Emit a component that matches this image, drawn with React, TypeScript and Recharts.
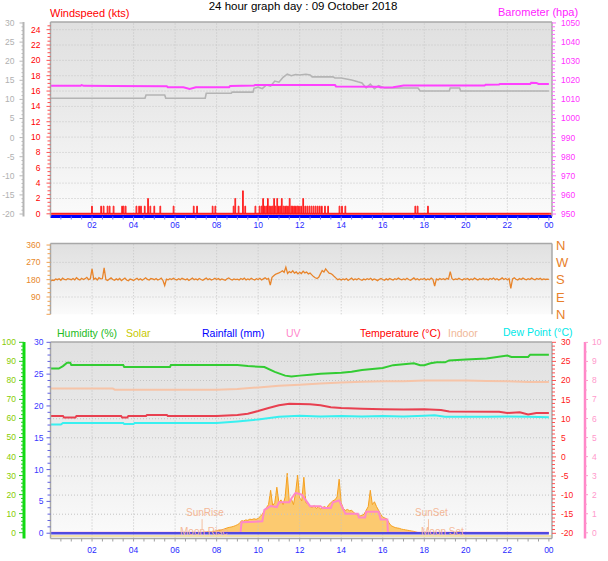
import React from "react";
import {
  ComposedChart,
  Line,
  Area,
  XAxis,
  YAxis,
  CartesianGrid,
  ReferenceLine,
} from "recharts";

const FONT = "'Liberation Sans', Arial, sans-serif";
const TICK_FS = 8.5;
const X_DOMAIN: [number, number] = [0, 24.15];

function range(from: number, to: number, step: number) {
  const out: number[] = [];
  for (let v = from; v <= to + 1e-9; v += step) out.push(Math.round(v * 100) / 100);
  return out;
}
const every = (n: number) => (v: number) => Math.abs(v / n - Math.round(v / n)) < 1e-6;

// ---- axis ticks ----
const HOUR_TICKS = range(0.5, 24, 0.5);
const GRID_HOURS = [2, 4, 6, 8, 10, 12, 14, 16, 18, 20, 22];
const hourLabel = (h: number) => String(h % 24).padStart(2, "0");

// ---- top panel: windspeed (kts), barometer (hpa), gray temperature line ----
// [hour, kts] gust spikes
const WIND_SPIKES: [number, number][] = [
  [1.98, 1], [2.42, 1], [2.54, 1], [2.73, 1], [2.83, 1], [3.02, 1], [3.43, 1], [3.5, 1], [3.6, 1],
  [4.12, 1], [4.25, 1], [4.34, 1], [4.52, 1], [4.68, 2], [4.79, 1], [4.98, 1], [5.27, 1], [5.91, 1],
  [6.88, 1], [7.04, 1], [7.79, 1], [7.92, 1], [8.8, 1], [8.88, 2], [9.04, 1], [9.25, 3], [9.36, 1],
  [9.85, 1], [10.05, 1], [10.15, 1], [10.22, 2], [10.3, 1], [10.38, 1], [10.45, 2], [10.52, 1],
  [10.6, 1], [10.68, 1], [10.75, 2], [10.82, 1], [10.9, 2], [10.98, 1], [11.05, 1], [11.12, 2],
  [11.2, 1], [11.28, 1], [11.35, 1], [11.42, 1], [11.5, 2], [11.58, 1], [11.65, 1], [11.72, 1],
  [11.8, 1], [11.88, 1], [11.95, 1], [12.05, 1], [12.15, 2], [12.25, 1], [12.35, 1], [12.45, 1],
  [12.55, 1], [12.65, 1], [12.75, 1], [12.85, 1], [12.95, 1], [13.05, 1], [13.2, 1], [13.35, 1],
  [13.9, 1], [14.02, 1], [14.18, 1], [17.55, 1], [17.66, 1], [18.16, 1],
];
const SPIKE_WIDTH = 0.035;

const BARO: [number, number][] = [
  [0, 1017.1], [1.45, 1017.1], [1.5, 1017.5], [1.6, 1017.1], [3.0, 1017.0], [5.6, 1016.9],
  [5.65, 1016.4], [6.4, 1016.3], [6.7, 1015.5], [7.0, 1016.3], [8.6, 1016.4], [8.65, 1017.0],
  [9.8, 1017.2], [9.85, 1017.5], [13.7, 1017.5], [13.75, 1016.8], [15.8, 1016.6], [15.9, 1016.2],
  [16.5, 1016.3], [16.8, 1016.9], [17.0, 1017.2], [20.9, 1017.2], [20.95, 1017.7], [21.6, 1017.8],
  [21.65, 1018.1], [23.1, 1018.1], [23.15, 1018.7], [23.4, 1018.6], [23.5, 1018.1], [24, 1018.1],
];

const GRAY_TEMP: [number, number][] = [
  [0, 10.3], [4.55, 10.3], [4.6, 11.15], [5.5, 11.15], [5.55, 10.3], [7.45, 10.3], [7.5, 11.6],
  [8.7, 11.6], [8.75, 11.9], [9.75, 11.9], [9.8, 12.9], [10.0, 13.2], [10.2, 12.8], [10.4, 13.8],
  [10.6, 13.5], [10.8, 14.8], [11.0, 14.5], [11.2, 15.8], [11.4, 16.6], [11.6, 16.2], [11.8, 16.5],
  [12.0, 16.4], [12.3, 16.6], [12.5, 16.4], [12.6, 15.9], [13.6, 15.9], [13.7, 15.6], [14.0, 15.6],
  [14.5, 15.1], [14.8, 14.6], [15.0, 14.3], [15.2, 13.0], [15.4, 14.0], [15.6, 12.8], [15.8, 13.6],
  [16.1, 13.0], [17.7, 13.0], [17.8, 12.2], [19.2, 12.2], [19.25, 13.0], [19.7, 13.0],
  [19.75, 12.2], [24, 12.2],
];

// ---- middle panel: wind direction, one value every 5 minutes ----
const DIR_STEP = 1 / 12;
const WIND_DIR: number[] = [
  172, 178, 176, 184, 180, 185, 177, 188, 181, 179, 185, 183,
  180, 186, 179, 190, 183, 178, 187, 181, 185, 192, 180, 184,
  236, 182, 188, 178, 190, 184, 186, 241, 180, 176, 183, 189,
  181, 177, 184, 179, 186, 175, 182, 188, 178, 174, 183, 180,
  176, 182, 187, 179, 185, 177, 183, 190, 181, 178, 186, 184,
  180, 186, 178, 182, 188, 176, 150, 183, 179, 185, 181, 187,
  182, 178, 185, 180, 187, 183, 179, 184, 176, 182, 188, 180,
  184, 179, 186, 181, 177, 183, 188, 180, 185, 178, 182, 187,
  181, 186, 179, 184, 180, 177, 185, 189, 182, 178, 184, 180,
  183, 178, 186, 181, 188, 179, 184, 180, 187, 182, 178, 185,
  181, 187, 179, 184, 190, 182, 186, 152, 192, 200, 208, 212,
  215, 220, 226, 218, 245, 212, 222, 216, 226, 214, 220, 210,
  218, 212, 224, 215, 220, 210, 214, 205, 196, 190, 186, 192,
  210, 228, 220, 236, 224, 214, 212, 205, 196, 188, 180, 184,
  178, 184, 180, 186, 176, 182, 188, 179, 184, 180, 186, 181,
  177, 183, 179, 185, 181, 187, 178, 184, 180, 175, 182, 186,
  181, 177, 184, 179, 186, 182, 178, 185, 181, 188, 183, 179,
  184, 180, 187, 181, 177, 183, 189, 180, 185, 178, 184, 182,
  186, 179, 184, 180, 188, 182, 147, 184, 179, 186, 181, 185,
  180, 187, 183, 222, 185, 179, 184, 181, 187, 182, 178, 185,
  182, 186, 179, 184, 180, 188, 183, 178, 185, 181, 187, 180,
  184, 179, 186, 182, 188, 180, 185, 178, 183, 189, 181, 186,
  180, 186, 135, 184, 190, 182, 178, 186, 181, 188, 183, 179,
  185, 181, 188, 183, 179, 186, 182, 187, 180, 184, 181, 183,
  182,
];
const COMPASS: Record<number, string> = { 0: "N", 90: "E", 180: "S", 270: "W", 360: "N" };

// ---- bottom panel ----
const HUMIDITY: [number, number][] = [
  [0, 86.2], [0.4, 86.2], [0.6, 87.5], [0.8, 89.3], [0.95, 89.3], [1.0, 88.1], [3.5, 88.1],
  [3.55, 87.0], [5.75, 87.0], [5.8, 88.1], [9.0, 88.1], [9.5, 87.5], [10.3, 87.0], [10.8, 84.5],
  [11.3, 82.5], [11.6, 82.0], [12.0, 82.5], [12.5, 83.0], [13.0, 83.5], [14.0, 84.0], [14.5, 84.5],
  [15.0, 85.5], [15.5, 86.0], [16.0, 86.5], [16.5, 88.0], [17.0, 88.5], [17.5, 89.0], [17.8, 88.0],
  [18.0, 88.0], [18.3, 89.0], [18.6, 89.5], [19.0, 89.5], [19.2, 90.5], [20.0, 91.0], [21.0, 91.5],
  [22.0, 93.0], [22.2, 92.3], [23.0, 92.3], [23.1, 93.5], [24, 93.5],
];
const TEMPERATURE: [number, number][] = [
  [0, 10.7], [0.6, 10.7], [0.65, 10.3], [1.2, 10.3], [1.25, 10.7], [3.4, 10.7], [3.45, 10.3],
  [3.7, 10.3], [3.75, 10.7], [4.6, 10.7], [4.65, 11.0], [5.6, 11.0], [5.65, 10.7], [8.0, 10.7],
  [9.0, 11.0], [9.5, 11.3], [10.0, 12.0], [10.5, 12.8], [11.0, 13.5], [11.5, 13.9], [12.5, 13.8],
  [13.0, 13.5], [13.5, 13.0], [14.0, 12.8], [15.0, 12.6], [16.0, 12.5], [17.0, 12.4], [18.0, 12.5],
  [18.8, 12.3], [19.2, 11.9], [21.6, 11.8], [22.0, 11.5], [22.6, 11.7], [23.0, 11.1], [23.4, 11.5],
  [24, 11.5],
];
const DEW_POINT: [number, number][] = [
  [0, 8.5], [0.5, 8.5], [0.6, 8.9], [3.5, 8.9], [3.55, 8.6], [4.0, 8.6], [4.05, 8.9], [8.0, 8.9],
  [9.0, 9.3], [10.0, 9.8], [11.0, 10.5], [12.0, 10.8], [13.0, 10.6], [14.0, 10.7], [15.0, 10.6],
  [16.0, 10.7], [17.0, 10.6], [18.0, 10.8], [18.5, 10.9], [19.0, 10.5], [21.0, 10.5], [22.0, 10.6],
  [23.0, 10.5], [24, 10.4],
];
const INDOOR: [number, number][] = [
  [0, 17.9], [3.0, 17.9], [3.1, 17.6], [8.0, 17.6], [9.0, 17.8], [10.0, 18.2], [11.0, 18.6],
  [12.0, 18.9], [13.0, 19.2], [14.0, 19.5], [15.0, 19.7], [16.0, 19.8], [17.0, 19.8], [18.0, 20.0],
  [20.0, 20.0], [21.0, 19.9], [22.0, 19.8], [23.0, 19.6], [24, 19.6],
];
const UV: [number, number][] = [
  [0, 0], [9.15, 0], [9.2, 0.55], [10.2, 0.6], [10.3, 1.2], [10.6, 1.4], [10.9, 1.35], [11.0, 1.6],
  [11.5, 1.6], [11.6, 1.8], [11.8, 2.1], [12.1, 2.0], [12.3, 1.7], [12.5, 1.4], [13.0, 1.4],
  [13.1, 1.3], [13.5, 1.3], [13.6, 1.6], [13.9, 1.7], [14.0, 1.45], [14.2, 1.0], [14.8, 1.0],
  [14.85, 0.8], [15.15, 0.8], [15.2, 1.1], [15.8, 1.1], [15.9, 0.7], [16.22, 0.7], [16.25, 0],
  [24, 0],
];
const RAINFALL: [number, number][] = [[0, 0], [24, 0]];
// solar W/m2, every 6 minutes from 07:00
const SOLAR_START = 7;
const SOLAR_STEP = 0.1;
const SOLAR: number[] = [
  0, 2, 4, 5, 6, 7, 8, 9, 10, 11,
  14, 15, 17, 20, 24, 28, 31, 33, 36, 40,
  45, 52, 66, 64, 70, 68, 74, 72, 76, 73,
  78, 88, 100, 118, 135, 150, 225, 145, 160, 241,
  160, 175, 150, 190, 314, 165, 180, 150, 210, 304,
  185, 170, 293, 160, 155, 140, 135, 145, 130, 138,
  128, 135, 140, 132, 150, 160, 170, 175, 190, 283,
  160, 130, 120, 125, 118, 120, 110, 100, 95, 90,
  95, 100, 120, 140, 225, 150, 165, 140, 120, 100,
  85, 80, 75, 55, 40, 35, 30, 28, 26, 22,
  20, 18, 16, 14, 12, 10, 7, 4, 2, 0,
  0,
];
const SUNRISE = 7.3;
const SUNSET = 18.2;

const pts = (arr: [number, number][]) => arr.map(([h, v]) => ({ h, v }));

const windData = (() => {
  const out = [{ h: 0, v: 0 }];
  WIND_SPIKES.forEach(([h, v]) => {
    out.push({ h, v: 0 }, { h, v }, { h: h + SPIKE_WIDTH, v }, { h: h + SPIKE_WIDTH, v: 0 });
  });
  out.push({ h: 24, v: 0 });
  return out;
})();
const dirData = WIND_DIR.map((v, i) => ({ h: i * DIR_STEP, v }));
const solarData = SOLAR.map((v, i) => ({ h: SOLAR_START + i * SOLAR_STEP, v }));

// ---- custom ticks: short marks for minor values, label for majors ----
type TickCfg = {
  side: "left" | "right" | "bottom";
  off: number;
  isMajor: (v: number) => boolean;
  fmt?: (v: number) => string;
  text: string;
  mark: string;
  long?: number;
  short?: number;
  size?: number;
  hideLabel?: (v: number) => boolean;
};
function makeTick(c: TickCfg) {
  const long = c.long ?? 5;
  const short = c.short ?? 3;
  const fs = c.size ?? TICK_FS;
  return (p: any) => {
    const v = p.payload.value;
    const major = c.isMajor(v);
    const len = major ? long : short;
    const label = major && !(c.hideLabel && c.hideLabel(v)) ? (c.fmt ? c.fmt(v) : String(v)) : "";
    if (c.side === "bottom") {
      const ay = p.y - c.off;
      return (
        <g>
          {len > 0 && <line x1={p.x} x2={p.x} y1={ay} y2={ay + len} stroke={c.mark} />}
          {label && (
            <text x={p.x} y={p.y} dy="0.75em" textAnchor="middle" fill={c.text} fontSize={fs} fontFamily={FONT}>
              {label}
            </text>
          )}
        </g>
      );
    }
    const left = c.side === "left";
    const ax = left ? p.x + c.off : p.x - c.off;
    return (
      <g>
        {len > 0 && <line x1={ax} x2={ax + (left ? -len : len)} y1={p.y} y2={p.y} stroke={c.mark} />}
        {label && (
          <text x={p.x} y={p.y} dy="0.35em" textAnchor={left ? "end" : "start"} fill={c.text} fontSize={fs} fontFamily={FONT}>
            {label}
          </text>
        )}
      </g>
    );
  };
}

const gridLines = (yAxisId: string, values: number[]) => [
  ...GRID_HOURS.map((h) => (
    <ReferenceLine key={`vx${h}`} x={h} yAxisId={yAxisId} stroke="#c4c4c4" strokeDasharray="1 2" />
  )),
  ...values.map((v) => (
    <ReferenceLine key={`hy${v}`} y={v} yAxisId={yAxisId} stroke="#c4c4c4" strokeDasharray="1 2" />
  )),
];

function Label({ x, y, color, size = 11, children, center }: any) {
  return (
    <div
      style={{
        position: "absolute",
        left: x,
        top: y,
        color,
        fontSize: size,
        lineHeight: 1,
        fontFamily: FONT,
        whiteSpace: "nowrap",
        transform: center ? "translateX(-50%)" : undefined,
      }}
    >
      {children}
    </div>
  );
}

function Bg({ id }: { id: string }) {
  return (
    <defs>
      <linearGradient id={id} x1="0" y1="0" x2="0" y2="1">
        <stop offset="0%" stopColor="#e0e0e0" />
        <stop offset="45%" stopColor="#eaeaea" />
        <stop offset="100%" stopColor="#fbfbfb" />
      </linearGradient>
    </defs>
  );
}

// axis ids sort so that the "a_" axis sits next to the plot and "b_" one outside it
function TopPanel() {
  return (
    <ComposedChart width={608} height={240} margin={{ top: 22, right: 0, bottom: 3.5, left: 0 }}>
      <Bg id="bgTop" />
      <CartesianGrid yAxisId="a_wind" fill="url(#bgTop)" horizontal={false} vertical={false} />
      <XAxis
        type="number"
        dataKey="h"
        domain={X_DOMAIN}
        ticks={HOUR_TICKS}
        interval={0}
        allowDataOverflow
        height={20}
        tickSize={4}
        tickMargin={1}
        tickLine={{ stroke: "transparent" }}
        axisLine={{ stroke: "#0000ff", strokeWidth: 3 }}
        tick={makeTick({ side: "bottom", off: 5, isMajor: every(2), fmt: hourLabel, text: "#2a2aff", mark: "#7070ff", long: 4, short: 3 })}
      />
      <YAxis
        yAxisId="a_wind"
        orientation="left"
        type="number"
        width={27}
        domain={[-0.35, 25]}
        allowDataOverflow
        ticks={range(0, 24.5, 0.5)}
        interval={0}
        tickSize={4}
        tickMargin={6}
        tickLine={{ stroke: "transparent" }}
        axisLine={{ stroke: "#a8a8a8", strokeWidth: 1.5 }}
        tick={makeTick({ side: "left", off: 10, isMajor: every(2), text: "#ff0000", mark: "#ff5050", long: 4, short: 3 })}
      />
      <YAxis
        yAxisId="b_gray"
        orientation="left"
        type="number"
        width={23.5}
        domain={[-20.65, 30.26]}
        allowDataOverflow
        ticks={range(-20, 30, 1)}
        interval={0}
        tickSize={4}
        tickMargin={5}
        tickLine={{ stroke: "transparent" }}
        axisLine={{ stroke: "#b4b4b4", strokeWidth: 2 }}
        tick={makeTick({ side: "left", off: 9, isMajor: every(5), text: "#b0b0b0", mark: "#b8b8b8", long: 4, short: 2 })}
      />
      <YAxis
        yAxisId="baro"
        orientation="right"
        type="number"
        width={56}
        domain={[948.7, 1050.5]}
        allowDataOverflow
        ticks={range(950, 1050, 2)}
        interval={0}
        tickSize={4}
        tickMargin={5}
        tickLine={{ stroke: "transparent" }}
        axisLine={{ stroke: "#a8a8a8", strokeWidth: 1.5 }}
        tick={makeTick({ side: "right", off: 9, isMajor: every(10), text: "#ff33ff", mark: "#ff66ff", long: 4, short: 3 })}
      />
      {gridLines("a_wind", range(2, 24, 2))}
      <ReferenceLine y={25} yAxisId="a_wind" stroke="#a8a8a8" strokeWidth={1.5} />
      <Line yAxisId="b_gray" data={pts(GRAY_TEMP)} dataKey="v" type="linear" stroke="#b4b4b4" strokeWidth={1.6} dot={false} activeDot={false} isAnimationActive={false} />
      <Line yAxisId="baro" data={pts(BARO)} dataKey="v" type="linear" stroke="#ff40ff" strokeWidth={2} dot={false} activeDot={false} isAnimationActive={false} />
      <ReferenceLine y={0} yAxisId="a_wind" stroke="#ff3030" strokeWidth={2} />
      <Line yAxisId="a_wind" data={windData} dataKey="v" type="linear" stroke="#ff1a1a" strokeWidth={1} dot={false} activeDot={false} isAnimationActive={false} />
    </ComposedChart>
  );
}

function MiddlePanel() {
  return (
    <ComposedChart width={608} height={96} margin={{ top: 13.5, right: 0, bottom: 11.7, left: 0 }}>
      <Bg id="bgMid" />
      <CartesianGrid yAxisId="dir" fill="url(#bgMid)" horizontal={false} vertical={false} />
      <XAxis type="number" dataKey="h" domain={X_DOMAIN} allowDataOverflow hide />
      <YAxis
        yAxisId="dir"
        orientation="left"
        type="number"
        width={50.5}
        domain={[0, 368]}
        allowDataOverflow
        ticks={range(0, 360, 22.5)}
        interval={0}
        tickSize={4}
        tickMargin={6}
        tickLine={{ stroke: "transparent" }}
        axisLine={{ stroke: "#a8a8a8", strokeWidth: 1.5 }}
        tick={makeTick({
          side: "left",
          off: 10,
          isMajor: every(90),
          hideLabel: (v) => v === 0,
          text: "#e8882a",
          mark: "#f0a050",
          long: 4,
          short: 3,
        })}
      />
      <YAxis
        yAxisId="compass"
        orientation="right"
        type="number"
        width={56}
        domain={[0, 368]}
        allowDataOverflow
        ticks={[0, 90, 180, 270, 360]}
        interval={0}
        tickSize={0}
        tickMargin={4}
        tickLine={false}
        axisLine={{ stroke: "#a8a8a8", strokeWidth: 1.5 }}
        tick={makeTick({
          side: "right",
          off: 4,
          isMajor: () => true,
          fmt: (v) => COMPASS[v],
          text: "#e8802a",
          mark: "transparent",
          long: 0,
          size: 13,
        })}
      />
      {gridLines("dir", [90, 180, 270])}
      <ReferenceLine y={368} yAxisId="dir" stroke="#a8a8a8" strokeWidth={1.5} />
      <Line yAxisId="dir" data={dirData} dataKey="v" type="linear" stroke="#e8842a" strokeWidth={1.3} dot={false} activeDot={false} isAnimationActive={false} />
    </ComposedChart>
  );
}

function BottomPanel() {
  return (
    <ComposedChart width={608} height={241} margin={{ top: 22, right: 0, bottom: 2.5, left: 0 }}>
      <Bg id="bgBot" />
      <CartesianGrid yAxisId="a_temp" fill="url(#bgBot)" horizontal={false} vertical={false} />
      <XAxis
        type="number"
        dataKey="h"
        domain={X_DOMAIN}
        ticks={HOUR_TICKS}
        interval={0}
        allowDataOverflow
        height={20}
        tickSize={6}
        tickMargin={2}
        tickLine={{ stroke: "transparent" }}
        axisLine={{ stroke: "#a8a8a8", strokeWidth: 1.5 }}
        tick={makeTick({ side: "bottom", off: 8, isMajor: every(2), fmt: hourLabel, text: "#2a2aff", mark: "#a0a0a0", long: 3, short: 3 })}
      />
      <YAxis
        yAxisId="a_rain"
        orientation="left"
        type="number"
        width={26.5}
        domain={[-0.83, 30.05]}
        allowDataOverflow
        ticks={range(0, 30, 1)}
        interval={0}
        tickSize={5}
        tickMargin={2}
        tickLine={{ stroke: "transparent" }}
        axisLine={{ stroke: "#a8a8a8", strokeWidth: 1.5 }}
        tick={makeTick({ side: "left", off: 7, isMajor: every(5), text: "#3a3aff", mark: "#6060e0", long: 4, short: 3 })}
      />
      <YAxis
        yAxisId="b_hum"
        orientation="left"
        type="number"
        width={24}
        domain={[-3.05, 100.16]}
        allowDataOverflow
        ticks={range(0, 100, 2)}
        interval={0}
        tickSize={6}
        tickMargin={2}
        tickLine={{ stroke: "transparent" }}
        axisLine={{ stroke: "#11dd11", strokeWidth: 3 }}
        tick={makeTick({ side: "left", off: 8, isMajor: every(10), text: "#88cc00", mark: "#22cc22", long: 5, short: 3 })}
      />
      <YAxis
        yAxisId="a_temp"
        orientation="right"
        type="number"
        width={33}
        domain={[-21.36, 30.08]}
        allowDataOverflow
        ticks={range(-20, 30, 1)}
        interval={0}
        tickSize={4}
        tickMargin={5}
        tickLine={{ stroke: "transparent" }}
        axisLine={{ stroke: "#a8a8a8", strokeWidth: 1.5 }}
        tick={makeTick({ side: "right", off: 9, isMajor: every(5), text: "#ff2020", mark: "#ff5050", long: 4, short: 3 })}
      />
      <YAxis
        yAxisId="b_uv"
        orientation="right"
        type="number"
        width={23}
        domain={[-0.3, 10.02]}
        allowDataOverflow
        ticks={range(0, 10, 0.5)}
        interval={0}
        tickSize={3}
        tickMargin={4}
        tickLine={{ stroke: "transparent" }}
        axisLine={{ stroke: "#ff88c8", strokeWidth: 2.5 }}
        tick={makeTick({ side: "right", off: 7, isMajor: every(1), text: "#ff99cc", mark: "#ff99cc", long: 3, short: 2 })}
      />
      <YAxis yAxisId="solar" type="number" domain={[-27, 1000]} allowDataOverflow hide />
      {gridLines("a_temp", range(-15, 25, 5))}
      <ReferenceLine y={30.08} yAxisId="a_temp" stroke="#a8a8a8" strokeWidth={1.5} />
      <ReferenceLine y={-20.72} yAxisId="a_temp" stroke="#f0d890" strokeWidth={1.5} />
      <Area yAxisId="solar" data={solarData} dataKey="v" type="linear" stroke="#f5a020" strokeWidth={1} fill="#fcc460" fillOpacity={0.9} dot={false} activeDot={false} isAnimationActive={false} />
      <Line yAxisId="b_uv" data={pts(UV)} dataKey="v" type="linear" stroke="#ff88c8" strokeWidth={2} dot={false} activeDot={false} isAnimationActive={false} />
      <Line yAxisId="a_temp" data={pts(INDOOR)} dataKey="v" type="linear" stroke="#f6c4a8" strokeWidth={2} dot={false} activeDot={false} isAnimationActive={false} />
      <Line yAxisId="a_temp" data={pts(DEW_POINT)} dataKey="v" type="linear" stroke="#38f0f0" strokeWidth={2} dot={false} activeDot={false} isAnimationActive={false} />
      <Line yAxisId="a_temp" data={pts(TEMPERATURE)} dataKey="v" type="linear" stroke="#e84050" strokeWidth={2} dot={false} activeDot={false} isAnimationActive={false} />
      <Line yAxisId="b_hum" data={pts(HUMIDITY)} dataKey="v" type="linear" stroke="#33cc33" strokeWidth={2} dot={false} activeDot={false} isAnimationActive={false} />
      <Line yAxisId="a_rain" data={pts(RAINFALL)} dataKey="v" type="linear" stroke="#5048e0" strokeWidth={2.5} dot={false} activeDot={false} isAnimationActive={false} />
      <ReferenceLine yAxisId="a_temp" segment={[{ x: SUNRISE, y: -16.3 }, { x: SUNRISE, y: -19.2 }]} stroke="#f4c0a0" />
      <ReferenceLine yAxisId="a_temp" segment={[{ x: SUNSET, y: -16.3 }, { x: SUNSET, y: -19.2 }]} stroke="#f4c0a0" />
    </ComposedChart>
  );
}

export default function App() {
  return (
    <div style={{ position: "relative", width: 608, height: 561, background: "#ffffff", overflow: "hidden" }}>
      <style>{`body{margin:0}`}</style>
      <div style={{ position: "absolute", left: 0, top: 0 }}>
        <TopPanel />
      </div>
      <div style={{ position: "absolute", left: 0, top: 230 }}>
        <MiddlePanel />
      </div>
      <div style={{ position: "absolute", left: 0, top: 320 }}>
        <BottomPanel />
      </div>

      <Label x={303} y={1} color="#000000" size={11.5} center>
        24 hour graph day : 09 October 2018
      </Label>
      <Label x={50} y={8} color="#ff0000">Windspeed (kts)</Label>
      <Label x={498} y={7} color="#ff22ff">Barometer (hpa)</Label>

      <Label x={57} y={328} color="#22bb22" size={10.5}>Humidity (%)</Label>
      <Label x={126} y={328} color="#c8c800" size={10.5}>Solar</Label>
      <Label x={202} y={328} color="#0000ff" size={10.5}>Rainfall (mm)</Label>
      <Label x={286} y={328} color="#ff88cc" size={10.5}>UV</Label>
      <Label x={360} y={328} color="#ff0000" size={10.5}>Temperature (°C)</Label>
      <Label x={448} y={328} color="#f0b898" size={10.5}>Indoor</Label>
      <Label x={503} y={327} color="#00e8e8" size={10.5}>Dew Point (°C)</Label>

      <Label x={186} y={508} color="#f4b898" size={10}>SunRise</Label>
      <Label x={180} y={527} color="#f4b898" size={10}>Moon Rise</Label>
      <Label x={415} y={508} color="#f4b898" size={10}>SunSet</Label>
      <Label x={421} y={527} color="#f4b898" size={10}>Moon Set</Label>
    </div>
  );
}
